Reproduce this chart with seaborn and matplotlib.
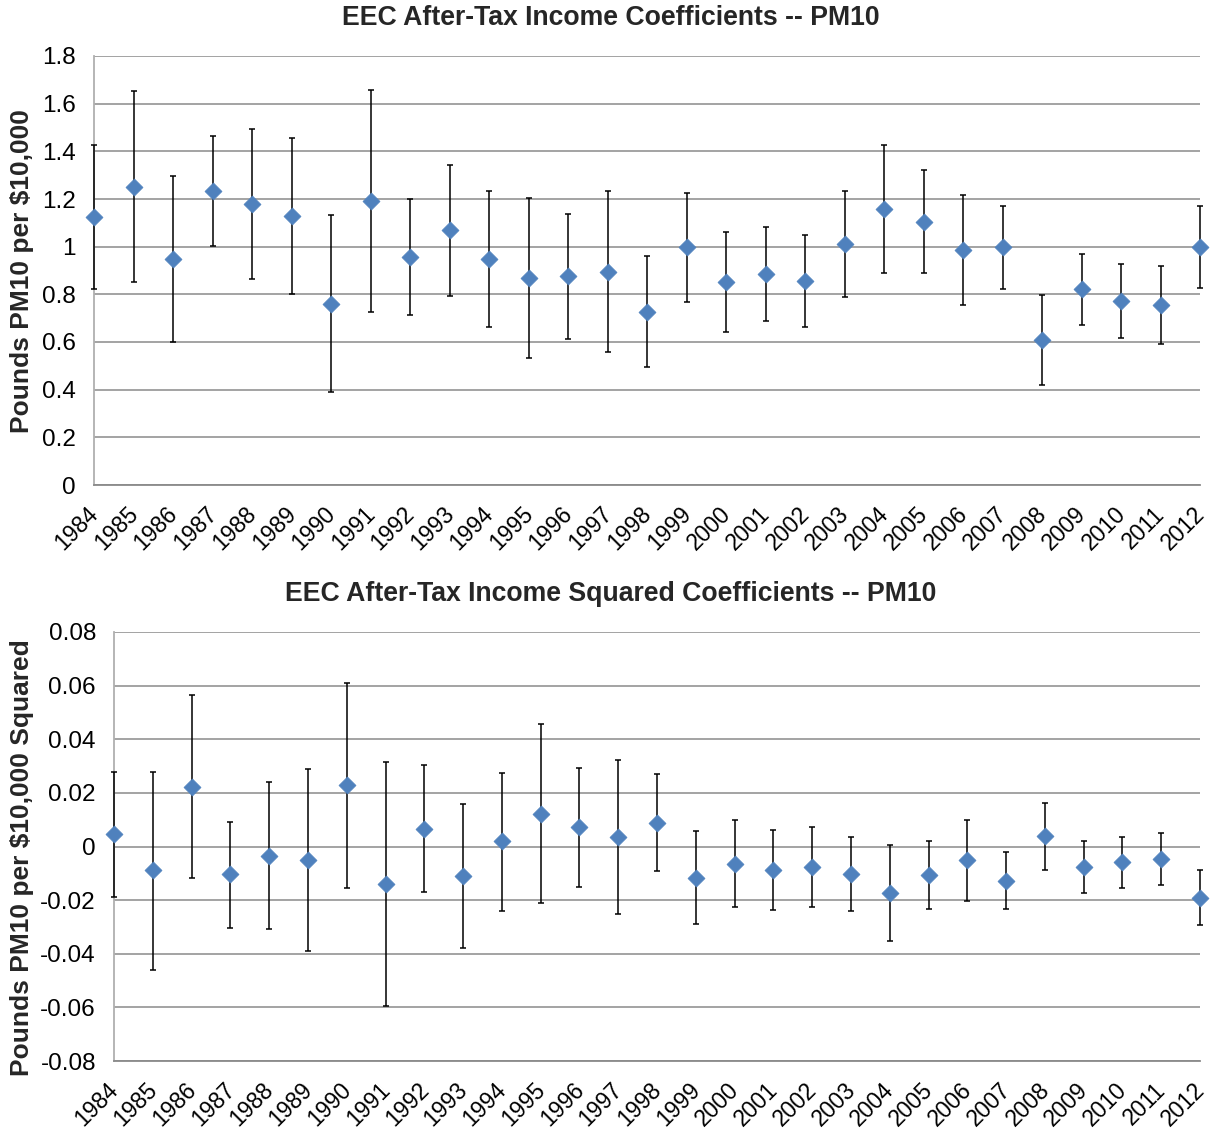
import numpy as np
import pandas as pd
import matplotlib
matplotlib.use("Agg")
import matplotlib.pyplot as plt
import matplotlib.transforms as mtransforms
import seaborn as sns

years = list(range(1984, 2013))

# Income coefficients with lower / upper bounds of the confidence interval
inc_coef = [1.126, 1.252, 0.950, 1.232, 1.180, 1.129, 0.761, 1.193, 0.957, 1.070,
            0.947, 0.870, 0.876, 0.895, 0.727, 0.997, 0.852, 0.885, 0.856, 1.011,
            1.158, 1.103, 0.986, 0.997, 0.610, 0.822, 0.771, 0.754, 0.999]
inc_low = [0.822, 0.850, 0.600, 1.001, 0.866, 0.801, 0.390, 0.724, 0.713, 0.794,
           0.663, 0.533, 0.613, 0.559, 0.495, 0.769, 0.643, 0.688, 0.662, 0.789,
           0.888, 0.888, 0.754, 0.822, 0.420, 0.672, 0.615, 0.593, 0.828]
inc_high = [1.427, 1.655, 1.298, 1.463, 1.495, 1.456, 1.131, 1.659, 1.200, 1.344,
            1.232, 1.206, 1.138, 1.232, 0.959, 1.224, 1.060, 1.081, 1.050, 1.232,
            1.425, 1.320, 1.217, 1.171, 0.799, 0.971, 0.926, 0.917, 1.169]

# Income squared coefficients with lower / upper bounds
sq_coef = [0.0045, -0.0089, 0.0222, -0.0104, -0.0035, -0.0051, 0.0229, -0.0138, 0.0067, -0.0109,
           0.0019, 0.0123, 0.0071, 0.0037, 0.0089, -0.0116, -0.0065, -0.0088, -0.0078, -0.0103,
           -0.0173, -0.0108, -0.0051, -0.0127, 0.0039, -0.0078, -0.0058, -0.0045, -0.0191]
sq_low = [-0.0189, -0.0460, -0.0119, -0.0303, -0.0309, -0.0390, -0.0153, -0.0594, -0.0170, -0.0380,
          -0.0239, -0.0210, -0.0150, -0.0250, -0.0091, -0.0289, -0.0225, -0.0236, -0.0227, -0.0241,
          -0.0352, -0.0234, -0.0203, -0.0234, -0.0087, -0.0175, -0.0154, -0.0142, -0.0294]
sq_high = [0.0278, 0.0278, 0.0564, 0.0093, 0.0240, 0.0289, 0.0610, 0.0316, 0.0304, 0.0160,
           0.0275, 0.0456, 0.0293, 0.0323, 0.0271, 0.0058, 0.0097, 0.0062, 0.0071, 0.0036,
           0.0006, 0.0019, 0.0098, -0.0020, 0.0164, 0.0019, 0.0036, 0.0052, -0.0086]

sns.set_theme(style="white")
plt.rcParams['font.family'] = ['Liberation Sans', 'DejaVu Sans']

GRID = "#8a8a8a"
BLUE = "#4f81bd"

fig = plt.figure(figsize=(12.11, 11.31), dpi=100)
W, H = 1211, 1131


def panel(rect, coef, low, high, ylim, yticks, ytick_labels, title, ylabel, title_y, ylabel_y):
    left, top, right, bottom = rect
    ax = fig.add_axes([left / W, 1 - bottom / H, (right - left) / W, (bottom - top) / H])
    df = pd.DataFrame({"year": years, "coef": coef, "low": low, "high": high})
    yerr = np.vstack([df["coef"] - df["low"], df["high"] - df["coef"]])
    ax.errorbar(df["year"], df["coef"], yerr=yerr, fmt="none", ecolor="black",
                elinewidth=1.1, capsize=2.2, capthick=1.1, zorder=3, clip_on=False)
    sns.scatterplot(data=df, x="year", y="coef", marker="D", s=75, color=BLUE,
                    edgecolor=BLUE, linewidth=0.5, ax=ax, zorder=4, clip_on=False)
    ax.set_xlim(years[0], years[-1])
    ax.set_ylim(*ylim)
    ax.set_yticks(yticks)
    ax.set_yticklabels(ytick_labels, fontsize=17.5, color="black")
    ax.set_xticks(years)
    ax.set_xticklabels([str(y) for y in years], rotation=45, ha="right", va="baseline",
                       rotation_mode="anchor", fontsize=16.5, color="black")
    ax.yaxis.grid(True, color=GRID, linewidth=1.1)
    ax.xaxis.grid(False)
    ax.set_axisbelow(True)
    for s in ["top", "right"]:
        ax.spines[s].set_visible(False)
    ax.spines["left"].set_color("#b0b0b0")
    ax.spines["left"].set_linewidth(1.3)
    ax.spines["bottom"].set_color(GRID)
    ax.spines["bottom"].set_linewidth(1.3)
    ax.tick_params(axis="both", which="major", direction="out", length=6,
                   width=1.1, color=GRID)
    ax.tick_params(axis="y", pad=7)
    ax.tick_params(axis="x", pad=15.5)
    # nudge the slanted year labels so their ends sit just right of each tick
    shift = mtransforms.ScaledTranslation(0.055, 0.0, fig.dpi_scale_trans)
    for t in ax.get_xticklabels():
        t.set_transform(t.get_transform() + shift)
    ax.set_xlabel("")
    ax.set_ylabel("")
    fig.text(611 / W, 1 - title_y / H, title, ha="center", va="center",
             fontsize=19.2, fontweight="bold")
    fig.text(22 / W, 1 - ylabel_y / H, ylabel, ha="center", va="center",
             rotation=90, fontsize=19, fontweight="bold")
    return ax


panel((94, 56, 1200, 485), inc_coef, inc_low, inc_high, (0, 1.8),
      [0, 0.2, 0.4, 0.6, 0.8, 1.0, 1.2, 1.4, 1.6, 1.8],
      ["0", "0.2", "0.4", "0.6", "0.8", "1", "1.2", "1.4", "1.6", "1.8"],
      "EEC After-Tax Income Coefficients -- PM10",
      "Pounds PM10 per $10,000", 18, 271)

panel((114, 632, 1200, 1061), sq_coef, sq_low, sq_high, (-0.08, 0.08),
      [-0.08, -0.06, -0.04, -0.02, 0, 0.02, 0.04, 0.06, 0.08],
      ["-0.08", "-0.06", "-0.04", "-0.02", "0", "0.02", "0.04", "0.06", "0.08"],
      "EEC After-Tax Income Squared Coefficients -- PM10",
      "Pounds PM10 per $10,000 Squared", 594, 858)

fig.savefig("out.png", dpi=100)
